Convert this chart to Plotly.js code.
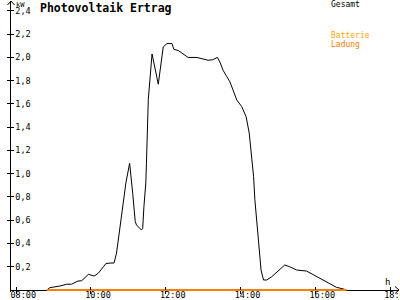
<!DOCTYPE html>
<html><head><meta charset="utf-8">
<script src="https://cdn.plot.ly/plotly-3.0.1.min.js"></script>
<style>html,body{margin:0;padding:0;background:#fff}#c{width:400px;height:300px}</style>
</head><body><div id="c"></div>
<script>
const times = ["08:49","08:54","09:10","09:21","09:29","09:39","09:45","09:56","10:05","10:12","10:20","10:24","10:32","10:37","10:41","10:45","10:49","10:56","11:02","11:04","11:07","11:11","11:13","11:21","11:23","11:25","11:28","11:29","11:31","11:32","11:38","11:48","11:56","12:02","12:10","12:13","12:20","12:28","12:36","12:50","13:00","13:08","13:15","13:23","13:27","13:32","13:38","13:43","13:48","13:54","14:02","14:09","14:14","14:18","14:21","14:23","14:26","14:30","14:33","14:37","14:42","14:50","15:01","15:11","15:19","15:30","15:46","15:57","16:13","16:24","16:34","16:45","16:50"];
const gesamt = [0.00,0.02,0.034,0.05,0.05,0.077,0.08,0.135,0.12,0.146,0.20,0.228,0.232,0.232,0.318,0.49,0.67,0.92,1.09,1.00,0.83,0.59,0.56,0.516,0.53,0.72,0.92,1.09,1.53,1.64,2.03,1.77,2.09,2.12,2.12,2.07,2.06,2.03,2.00,2.00,1.99,1.976,1.98,2.00,1.96,1.89,1.835,1.79,1.72,1.634,1.577,1.49,1.35,1.147,0.975,0.78,0.60,0.344,0.17,0.086,0.086,0.114,0.166,0.215,0.20,0.172,0.163,0.13,0.086,0.05,0.023,0.009,0.00];
const ladungTimes = ["08:49","16:50"];
const ladung = [0, 0];
const xTickVals = [8, 10, 12, 14, 16, 18];
const xTickText = ["08:00","10:00","12:00","14:00","16:00","18:00"];
const yTickVals = [0.2,0.4,0.6,0.8,1.0,1.2,1.4,1.6,1.8,2.0,2.2,2.4];
const yTickText = ["0,2","0,4","0,6","0,8","1,0","1,2","1,4","1,6","1,8","2,0","2,2","2,4"];
const legendNames = ["Gesamt","Batterie","Ladung"];
const legendColors = ["#000000","#FFAA00","#FF8000"];

function toH(t){ const p = t.split(":").map(Number); return p[0] + p[1]/60; }

const W = 400, H = 300, L = 11, R = 1, T = 2, B = 8;
const PH = H - T - B;
const xr = [7.86, 18.24];
const yr = [-0.0172, 2.477];
const zeroPos = (0 - yr[0]) / (yr[1] - yr[0]);
const fx = px => (px - L) / (W - L - R);
const fy = py => 1 - (py - T) / PH;
const FONT = "DejaVu Sans Mono";

const traces = [
  {x: times.map(toH), y: gesamt, mode: "lines", line: {color: legendColors[0], width: 1}, name: legendNames[0], hoverinfo: "skip"},
  {x: ladungTimes.map(toH), y: ladung, mode: "lines", line: {color: legendColors[2], width: 2}, name: legendNames[2], hoverinfo: "skip"},
  {x: [], y: [], xaxis: "x2", yaxis: "y2", showlegend: false},
  {x: [], y: [], xaxis: "x3", yaxis: "y2", showlegend: false}
];

const axBase = {showgrid: false, zeroline: false, fixedrange: true};
const layout = {
  width: W, height: H,
  margin: {l: L, r: R, t: T, b: B, pad: 0},
  paper_bgcolor: "#fff", plot_bgcolor: "#fff",
  showlegend: false,
  font: {family: FONT, size: 9, color: "#000"},
  title: {text: "Photovoltaik Ertrag", x: 40/W, xanchor: "left", xref: "container", y: 1 - 7.5/H, yanchor: "middle", yref: "container",
          font: {family: FONT, size: 11.5, weight: 700, color: "#000"}},
  xaxis: Object.assign({}, axBase, {
    range: xr, anchor: "free", position: zeroPos + 1.5/PH,
    tickmode: "array", tickvals: xTickVals, ticktext: xTickText,
    ticks: "", showline: false, ticklabelshift: 7, ticklabeloverflow: "allow",
    tickfont: {family: FONT, size: 8.5, color: "#000"}
  }),
  xaxis2: Object.assign({}, axBase, {
    range: xr, anchor: "free", position: zeroPos, overlaying: "x",
    tickmode: "array", tickvals: xTickVals, ticks: "outside", ticklen: 3, tickcolor: "#000",
    showticklabels: false, showline: false
  }),
  xaxis3: Object.assign({}, axBase, {
    range: xr, anchor: "free", position: zeroPos, overlaying: "x",
    tickmode: "array", tickvals: xTickVals, ticks: "inside", ticklen: 3, tickcolor: "#000",
    showticklabels: false, showline: false
  }),
  yaxis: Object.assign({}, axBase, {
    range: yr, zeroline: true, zerolinecolor: "#000", zerolinewidth: 1,
    tickmode: "array", tickvals: yTickVals, ticktext: yTickText,
    ticks: "outside", ticklen: 3, tickcolor: "#000", tickwidth: 1,
    ticklabelposition: "inside", ticklabelstandoff: 3, ticklabeloverflow: "allow",
    showline: true, linecolor: "#000", linewidth: 1,
    tickfont: {family: FONT, size: 8.5, color: "#000"}
  }),
  yaxis2: Object.assign({}, axBase, {
    range: yr, overlaying: "y", anchor: "x",
    tickmode: "array", tickvals: yTickVals, ticks: "inside", ticklen: 3, tickcolor: "#000",
    showticklabels: false, showline: false
  }),
  annotations: [
    {text: "kW", xref: "paper", yref: "paper", x: fx(14), y: fy(5), xanchor: "left", yanchor: "middle", showarrow: false, font: {family: FONT, size: 7, color: "#000"}},
    {text: "h", xref: "paper", yref: "paper", x: fx(387), y: fy(282), xanchor: "center", yanchor: "middle", showarrow: false, font: {family: FONT, size: 9, color: "#000"}},
    {text: legendNames[0], xref: "paper", yref: "paper", x: fx(329), y: fy(4.5), xanchor: "left", yanchor: "middle", showarrow: false, font: {family: FONT, size: 8, color: legendColors[0]}},
    {text: legendNames[1], xref: "paper", yref: "paper", x: fx(329), y: fy(35.5), xanchor: "left", yanchor: "middle", showarrow: false, font: {family: FONT, size: 8, color: legendColors[1]}},
    {text: legendNames[2], xref: "paper", yref: "paper", x: fx(329), y: fy(44), xanchor: "left", yanchor: "middle", showarrow: false, font: {family: FONT, size: 8, color: legendColors[2]}}
  ],
  shapes: [
    {type: "path", xref: "paper", yref: "paper", path: `M${fx(395)},${fy(286.5)} L${fx(399)},${fy(290)} L${fx(395)},${fy(293.5)}`, line: {color: "#000", width: 1}},
    {type: "path", xref: "paper", yref: "paper", path: `M${fx(7.5)},${fy(5)} L${fx(11)},${fy(1)} L${fx(14.5)},${fy(5)}`, line: {color: "#000", width: 1}},
    {type: "line", xref: "paper", yref: "paper", x0: fx(11), x1: fx(11), y0: fy(2), y1: fy(1), line: {color: "#000", width: 1}}
  ]
};

Plotly.newPlot("c", traces, layout, {staticPlot: true, displayModeBar: false});
</script>
</body></html>
